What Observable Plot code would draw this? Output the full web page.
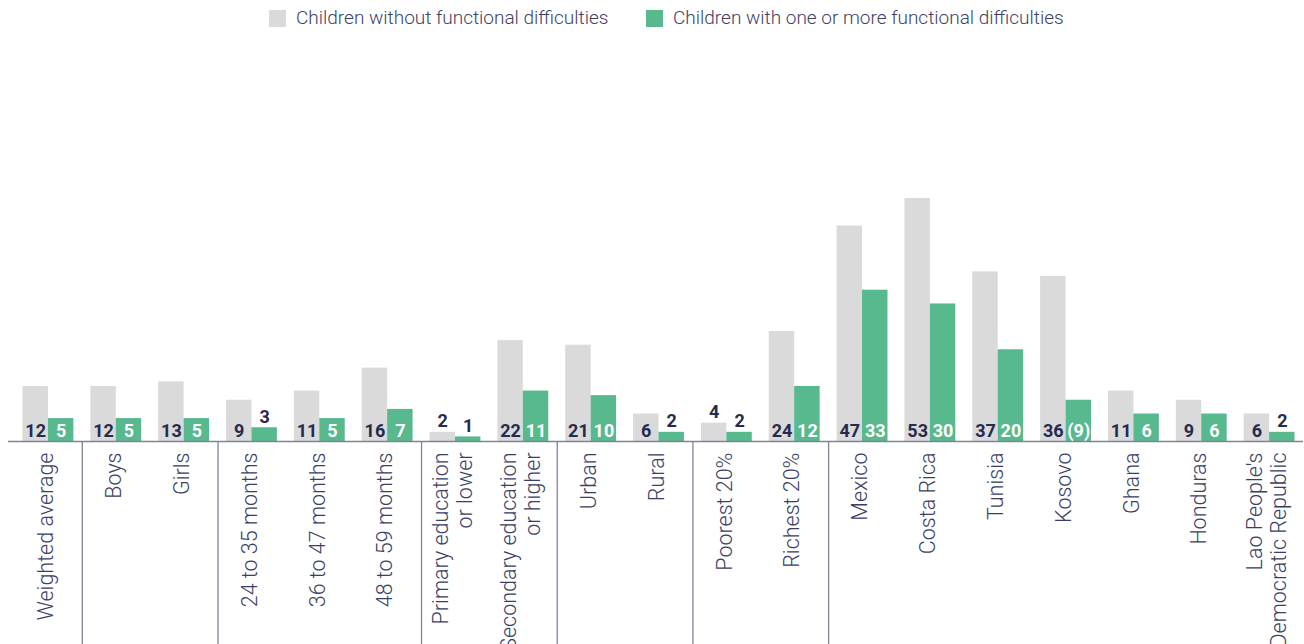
<!DOCTYPE html>
<html><head><meta charset="utf-8">
<script src="https://cdn.jsdelivr.net/npm/d3@7"></script>
<script src="https://cdn.jsdelivr.net/npm/@observablehq/plot@0.6"></script>
<style>
body{margin:0;background:#fff;font-family:Roboto,"Liberation Sans",sans-serif;}
#legend{height:36px;position:relative;}
.item{position:absolute;top:9px;display:flex;align-items:center;font-size:19px;font-weight:300;color:#3d4166;white-space:nowrap;line-height:18px;}
.sw{width:17px;height:17px;margin-right:10px;}
</style></head><body>
<div id="legend"></div>
<div id="chart"></div>
<script>
const categories = [
  "Weighted average", "Boys", "Girls",
  "24 to 35 months", "36 to 47 months", "48 to 59 months",
  "Primary education\nor lower", "Secondary education\nor higher",
  "Urban", "Rural", "Poorest 20%", "Richest 20%",
  "Mexico", "Costa Rica", "Tunisia", "Kosovo", "Ghana", "Honduras",
  "Lao People's\nDemocratic Republic"
];
const withoutDifficulties = [12, 12, 13, 9, 11, 16, 2, 22, 21, 6, 4, 24, 47, 53, 37, 36, 11, 9, 6];
const withDifficulties    = [5, 5, 5, 3, 5, 7, 1, 11, 10, 2, 2, 12, 33, 30, 20, 9, 6, 6, 2];
const groupStarts = ["Boys", "24 to 35 months", "Primary education\nor lower", "Urban", "Poorest 20%", "Mexico"];
const lowSample = ["Kosovo"];
const seriesNames = ["Children without functional difficulties", "Children with one or more functional difficulties"];
const seriesColors = ["#dadada", "#58b88e"];

const navy = "#262a4e";
const lineColor = "#7f839c";

// legend
const legendLefts = [269, 646];
const legend = document.getElementById("legend");
seriesNames.forEach((name, k) => {
  const it = document.createElement("div");
  it.className = "item";
  it.style.left = legendLefts[k] + "px";
  it.innerHTML = `<span class="sw" style="background:${seriesColors[k]}"></span><span>${name}</span>`;
  legend.appendChild(it);
});

const rows = categories.map((c, i) => ({
  cat: c, i,
  without: withoutDifficulties[i],
  with: withDifficulties[i],
  withLabel: lowSample.includes(c) ? `(${withDifficulties[i]})` : String(withDifficulties[i])
}));
const boundaries = groupStarts.map(g => categories.indexOf(g) - 0.5);
const half = 0.375;
const threshold = 5;

const plot = Plot.plot({
  width: 1304,
  height: 608,
  marginTop: 162,
  marginBottom: 203,
  marginLeft: 14,
  marginRight: 1,
  x: {type: "linear", domain: [-0.5, categories.length - 0.5], axis: null},
  y: {domain: [0, 53], axis: null},
  style: {fontFamily: "Roboto, 'Liberation Sans', sans-serif", background: "#fff"},
  marks: [
    Plot.rectY(rows, {x1: d => d.i - half, x2: d => d.i, y: "without", fill: seriesColors[0]}),
    Plot.rectY(rows, {x1: d => d.i, x2: d => d.i + half, y: "with", fill: seriesColors[1]}),
    Plot.ruleY([0], {stroke: lineColor, strokeWidth: 1.3, insetLeft: -6}),
    Plot.ruleX(boundaries, {x: d => d, y1: 0, y2: 0, insetBottom: -210, stroke: lineColor, strokeWidth: 1.3}),
    // value labels - inside
    Plot.text(rows.filter(d => d.without >= threshold), {x: d => d.i - half / 2, y: 0, text: d => String(d.without), lineAnchor: "bottom", dy: -5, fill: navy, fontWeight: 700, fontSize: 18}),
    Plot.text(rows.filter(d => d.with >= threshold), {x: d => d.i + half / 2, y: 0, text: "withLabel", lineAnchor: "bottom", dy: -5, fill: "#fff", fontWeight: 700, fontSize: 18}),
    // value labels - above
    Plot.text(rows.filter(d => d.without < threshold), {x: d => d.i - half / 2, y: "without", text: d => String(d.without), lineAnchor: "bottom", dy: -5, fill: navy, fontWeight: 700, fontSize: 18}),
    Plot.text(rows.filter(d => d.with < threshold), {x: d => d.i + half / 2, y: "with", text: "withLabel", lineAnchor: "bottom", dy: -5, fill: navy, fontWeight: 700, fontSize: 18}),
    // category labels
    Plot.text(rows, {x: "i", y: 0, text: "cat", rotate: -90, textAnchor: "end", lineAnchor: "middle", lineHeight: 1.12, dy: 11, dx: -3, fill: "#3a3e64", fontSize: 21.5, fontWeight: 300})
  ]
});
document.getElementById("chart").appendChild(plot);
</script>
</body></html>
